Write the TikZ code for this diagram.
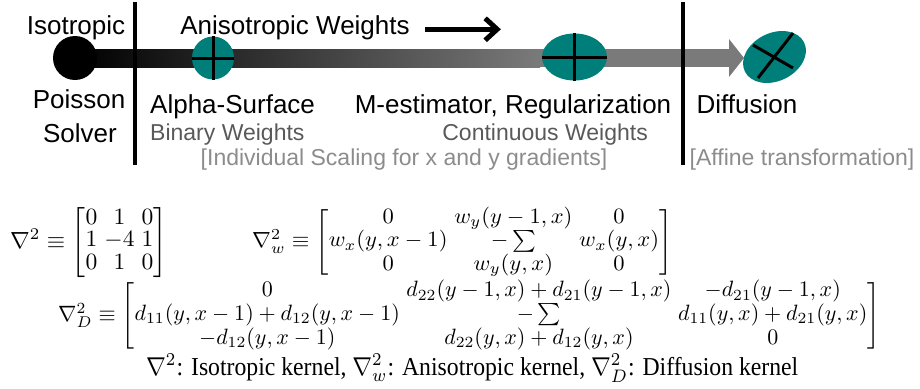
\documentclass[tikz,border=0pt]{standalone}
\usepackage[no-math]{fontspec}
\usepackage{amsmath}
\usepackage{graphicx}
\usepackage{xcolor}
\usepackage{tikz}
\usetikzlibrary{shapes.geometric, arrows.meta, positioning, calc}
\newfontfamily\labelfont{Liberation Sans}
\newfontfamily\legendfont{Liberation Serif}
\definecolor{kernelteal}{HTML}{007F7A}
\definecolor{notegray}{HTML}{595959}
\definecolor{remarkgray}{HTML}{8C8C8C}
\definecolor{bargray}{HTML}{7A7A7A}

\begin{document}
\begin{tikzpicture}[
    x=1pt, y=-1pt,
    stage/.style={font=\labelfont\fontsize{26}{30}\selectfont, inner sep=0pt, anchor=base},
    note/.style={font=\labelfont\fontsize{23}{27}\selectfont, text=notegray, inner sep=0pt, anchor=base},
    remark/.style={note, text=remarkgray},
    kernel/.style={ellipse, fill=kernelteal, inner sep=0pt},
    crossline/.style={line width=3pt, black},
    divider/.style={line width=3.5pt, black},
    weightarrow/.style={-{Straight Barb[length=12pt, width=22pt]}, line width=5pt},
    formula/.style={inner sep=0pt, anchor=north west,
        execute at begin node={\setlength\arraycolsep{1.5pt}\renewcommand\arraystretch{#1}}},
    formula/.default=0.8
]
    \useasboundingbox (0,0) rectangle (920,388);

    % Weight axis
    \coordinate (barend) at (729,58);
    \shade[left color=black, right color=bargray] (75,49) rectangle (540,67);
    \fill[bargray] (539,49) rectangle (barend |- 0,67);
    \fill[bargray] (729,39) -- (744,58) -- (729,77) -- cycle;

    % Separators
    \draw[divider] (135,2) -- (135,165);
    \draw[divider] (683,2) -- (683,165);

    % Kernel shapes
    \node[circle, fill=black, minimum size=44pt, inner sep=0pt] (iso) at (75,58) {};
    \node[kernel, minimum width=42pt, minimum height=43pt] (alpha) at (213,58) {};
    \node[kernel, minimum width=65pt, minimum height=47pt] (mest) at (574.5,57) {};
    \node[kernel, minimum width=66pt, minimum height=48pt, rotate=26] (diff) at (774.5,57) {};

    \draw[crossline] (alpha.west) -- (alpha.east);
    \draw[crossline] (alpha.north) -- (alpha.south);
    \draw[crossline] (mest.west) -- (mest.east);
    \draw[crossline] (mest.north) -- (mest.south);
    \draw[crossline] ([shift={(-21.5,-12)}]diff.center) -- ([shift={(18.5,11)}]diff.center);
    \draw[crossline] ([shift={(-16.5,21)}]diff.center) -- ([shift={(18.5,-24)}]diff.center);

    % Labels
    \node[stage] (isolab) at (76,34) {Isotropic};
    \node[stage] (poisson) at (79,108) {Poisson};
    \node[stage] (solver) at (80,142) {Solver};
    \node[stage] (aniso) at (295,34) {Anisotropic Weights};
    \node[stage, anchor=base west] (alphalab) at (150,113) {Alpha-Surface};
    \node[note, anchor=base west] (binary) at (150,140) {Binary Weights};
    \node[remark] (scaling) at (404,165) {[Individual Scaling for x and y gradients]};
    \node[stage] (mestlab) at (513,113) {M-estimator, Regularization};
    \node[note, anchor=base east] (continuous) at (648,140) {Continuous Weights};
    \node[stage] (difflab) at (747,113) {Diffusion};
    \node[remark] (affine) at (802,165) {[Affine transformation]};

    \draw[weightarrow] ([xshift=15pt, yshift=-2pt]aniso.east) -- ++(76,0);

    % Kernels
    \node[formula] (isokernel) at (10,207) {\resizebox*{157pt}{70pt}{$\nabla^2 \equiv
        \begin{bmatrix} 0 & 1 & 0 \\ 1 & -4 & 1 \\ 0 & 1 & 0 \end{bmatrix}$}};
    \node[formula=0.88] (anisokernel) at (252,207) {\resizebox*{420pt}{70pt}{$\nabla^2_w \equiv
        \begin{bmatrix} 0 & w_y(y-1,x) & 0 \\ w_x(y,x-1) & -\sum & w_x(y,x) \\ 0 & w_y(y,x) & 0 \end{bmatrix}$}};
    \node[formula=0.88] (diffkernel) at (58,280) {\resizebox*{822pt}{71pt}{$\nabla^2_D \equiv
        \begin{bmatrix} 0 & d_{22}(y-1,x)+d_{21}(y-1,x) & -d_{21}(y-1,x) \\
        d_{11}(y,x-1)+d_{12}(y,x-1) & -\sum & d_{11}(y,x)+d_{21}(y,x) \\
        -d_{12}(y,x-1) & d_{22}(y,x)+d_{12}(y,x) & 0 \end{bmatrix}$}};
    \node[inner sep=0pt, anchor=base west] (legend) at (146,375) {\resizebox{652pt}{21pt}{\legendfont
        $\nabla^2$: Isotropic kernel, $\nabla^2_w$: Anisotropic kernel, $\nabla^2_D$: Diffusion kernel}};
\end{tikzpicture}
\end{document}
